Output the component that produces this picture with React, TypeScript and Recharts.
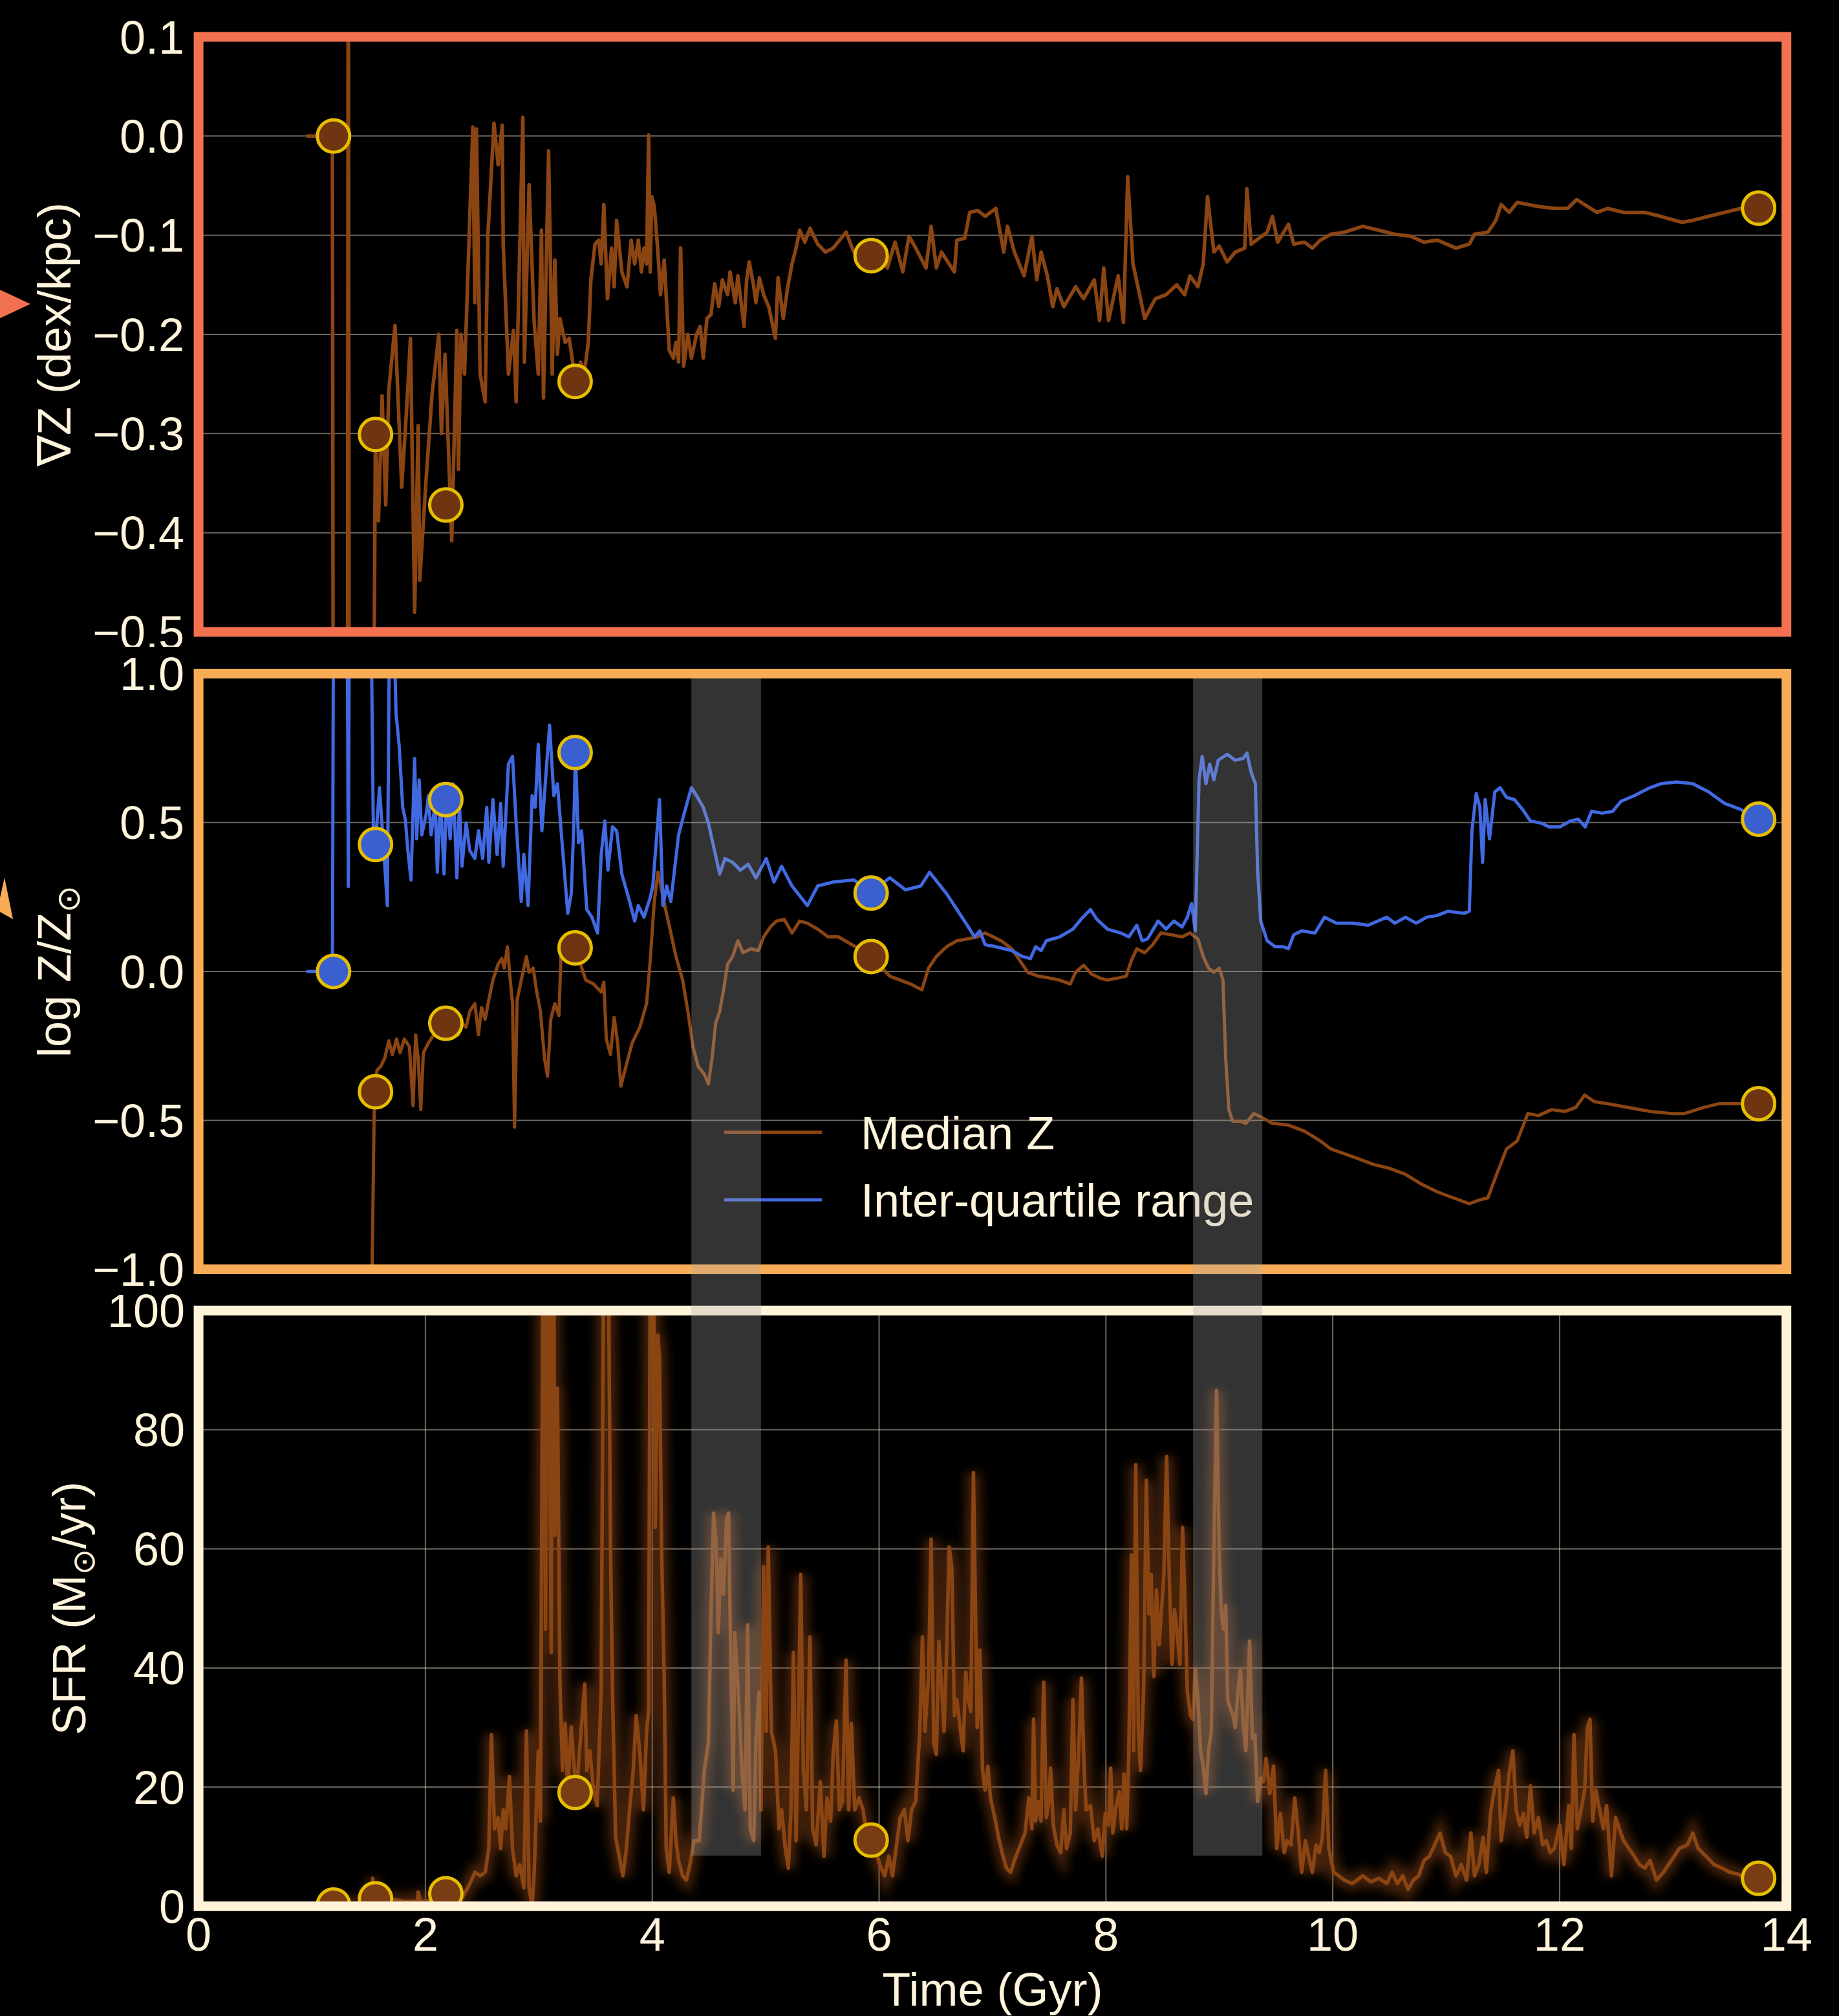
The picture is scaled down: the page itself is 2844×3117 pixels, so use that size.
import React from 'react';
import { ComposedChart, Line, Scatter, XAxis, YAxis, CartesianGrid, ReferenceArea } from 'recharts';

// ---------------- data ----------------
const TIME_TICKS = [0, 2, 4, 6, 8, 10, 12, 14];
const GRAD_TICKS = [-0.5, -0.4, -0.3, -0.2, -0.1, 0, 0.1];
const METAL_TICKS = [-1, -0.5, 0, 0.5, 1];
const SFR_TICKS = [0, 20, 40, 60, 80, 100];

// shaded epochs (Gyr) and lower SFR edge of the shading
const QUIET_BANDS: [number, number][] = [[4.345, 4.959], [8.769, 9.379]];
const BAND_SFR_FLOOR = 8.5;

// highlighted snapshots
const snapshotTimes = [1.19, 1.56, 2.18, 3.32, 5.93, 13.755];
const gradientAtSnapshots = [0, -0.301, -0.372, -0.2475, -0.1206, -0.0727];
const iqrAtSnapshots = [0, 0.426, 0.577, 0.735, 0.263, 0.511];
const medianSnapshotTimes = [1.56, 2.18, 3.32, 5.93, 13.755];
const medianAtSnapshots = [-0.404, -0.174, 0.079, 0.05, -0.444];
const sfrAtSnapshots = [0.2, 1.25, 2.1, 19.1, 11.1, 4.7];

// metallicity gradient (dex/kpc) vs time (Gyr)
const gradientSeries: [number, number][] = [
  [0.95, 0], [1.18, 0], [1.19, -0.9], [1.31, -0.9], [1.32, 0.3], [1.33, -0.9], [1.53, -0.9],
  [1.559, -0.301], [1.586, -0.388], [1.618, -0.262], [1.65, -0.372], [1.677, -0.256], [1.732, -0.191], [1.791, -0.354],
  [1.836, -0.272], [1.868, -0.204], [1.905, -0.48], [1.936, -0.292], [1.95, -0.448], [2.005, -0.348], [2.059, -0.26],
  [2.118, -0.2], [2.141, -0.3], [2.173, -0.22], [2.232, -0.408], [2.277, -0.196], [2.291, -0.336], [2.314, -0.2],
  [2.345, -0.24], [2.418, 0.009], [2.436, -0.168], [2.45, 0.007], [2.482, -0.24], [2.527, -0.268], [2.55, -0.101],
  [2.605, 0.013], [2.641, -0.029], [2.677, 0.011], [2.686, -0.109], [2.732, -0.24], [2.777, -0.196], [2.8, -0.268],
  [2.859, 0.019], [2.873, -0.228], [2.914, -0.049], [2.959, -0.188], [2.995, -0.24], [3.023, -0.095], [3.041, -0.264],
  [3.086, -0.015], [3.118, -0.24], [3.141, -0.125], [3.164, -0.22], [3.186, -0.184], [3.232, -0.208], [3.268, -0.204],
  [3.323, -0.248], [3.368, -0.228], [3.4, -0.24], [3.436, -0.208], [3.459, -0.145], [3.495, -0.109], [3.527, -0.105],
  [3.55, -0.129], [3.573, -0.069], [3.605, -0.164], [3.641, -0.113], [3.664, -0.152], [3.686, -0.085], [3.732, -0.137],
  [3.777, -0.152], [3.814, -0.105], [3.845, -0.129], [3.877, -0.105], [3.905, -0.137], [3.927, -0.113], [3.95, -0.129],
  [3.968, 0.001], [3.982, -0.137], [3.995, -0.061], [4.018, -0.071], [4.05, -0.117], [4.073, -0.16], [4.105, -0.125],
  [4.15, -0.216], [4.186, -0.224], [4.209, -0.208], [4.232, -0.228], [4.25, -0.113], [4.277, -0.232], [4.314, -0.2],
  [4.345, -0.224], [4.391, -0.2], [4.423, -0.192], [4.45, -0.224], [4.482, -0.184], [4.518, -0.18], [4.55, -0.149],
  [4.586, -0.172], [4.618, -0.145], [4.664, -0.16], [4.686, -0.137], [4.732, -0.168], [4.755, -0.141], [4.809, -0.192],
  [4.832, -0.145], [4.855, -0.127], [4.891, -0.149], [4.914, -0.168], [4.945, -0.143], [4.982, -0.16], [5.027, -0.172],
  [5.086, -0.204], [5.109, -0.143], [5.155, -0.184], [5.195, -0.152], [5.232, -0.129], [5.268, -0.113], [5.3, -0.095],
  [5.345, -0.107], [5.391, -0.093], [5.459, -0.109], [5.527, -0.117], [5.595, -0.113], [5.709, -0.097], [5.777, -0.117],
  [5.927, -0.121], [6.005, -0.113], [6.073, -0.133], [6.141, -0.107], [6.209, -0.137], [6.264, -0.101], [6.323, -0.113],
  [6.414, -0.133], [6.459, -0.091], [6.505, -0.133], [6.55, -0.117], [6.618, -0.129], [6.664, -0.137], [6.686, -0.105],
  [6.755, -0.103], [6.8, -0.077], [6.868, -0.075], [6.936, -0.081], [7.029, -0.073], [7.099, -0.117], [7.132, -0.091],
  [7.193, -0.117], [7.278, -0.141], [7.348, -0.101], [7.39, -0.145], [7.428, -0.117], [7.484, -0.141], [7.531, -0.172],
  [7.568, -0.154], [7.629, -0.172], [7.733, -0.152], [7.803, -0.164], [7.897, -0.145], [7.944, -0.186], [7.981, -0.133],
  [8.023, -0.186], [8.108, -0.141], [8.155, -0.188], [8.192, -0.041], [8.239, -0.129], [8.342, -0.184], [8.436, -0.164],
  [8.53, -0.16], [8.624, -0.15], [8.694, -0.16], [8.741, -0.141], [8.811, -0.152], [8.858, -0.129], [8.896, -0.061],
  [8.952, -0.117], [8.999, -0.111], [9.069, -0.127], [9.14, -0.117], [9.224, -0.113], [9.243, -0.053], [9.28, -0.109],
  [9.374, -0.101], [9.421, -0.097], [9.468, -0.081], [9.515, -0.107], [9.609, -0.089], [9.656, -0.109], [9.75, -0.107],
  [9.82, -0.113], [9.89, -0.105], [9.984, -0.099], [10.101, -0.097], [10.265, -0.091], [10.406, -0.095], [10.547, -0.099],
  [10.687, -0.101], [10.805, -0.107], [10.922, -0.105], [11.086, -0.113], [11.204, -0.109], [11.25, -0.099], [11.368, -0.097],
  [11.438, -0.085], [11.485, -0.069], [11.555, -0.077], [11.626, -0.067], [11.72, -0.069], [11.813, -0.071], [11.954, -0.073],
  [12.071, -0.073], [12.151, -0.064], [12.329, -0.077], [12.423, -0.073], [12.564, -0.077], [12.751, -0.077], [12.892, -0.081],
  [13.08, -0.087], [13.174, -0.085], [13.314, -0.081], [13.455, -0.077], [13.596, -0.073], [13.755, -0.073],
];

// inter-quartile range of log Z/Zsun
const iqrSeries: [number, number][] = [
  [0.95, 0], [1.18, 0], [1.19, 1.3], [1.31, 1.3], [1.32, 0.285], [1.33, 1.3], [1.518, 1.3], [1.541, 0.47],
  [1.559, 0.426], [1.595, 0.617], [1.65, 0.307], [1.664, 0.221], [1.686, 1.3], [1.714, 1.3], [1.741, 0.867],
  [1.768, 0.76], [1.8, 0.55], [1.823, 0.51], [1.845, 0.406], [1.873, 0.307], [1.905, 0.715], [1.923, 0.445],
  [1.945, 0.643], [1.968, 0.458], [2.005, 0.524], [2.027, 0.59], [2.05, 0.458], [2.086, 0.564], [2.105, 0.333],
  [2.132, 0.59], [2.164, 0.327], [2.186, 0.59], [2.218, 0.445], [2.245, 0.63], [2.277, 0.314], [2.3, 0.564],
  [2.323, 0.353], [2.359, 0.498], [2.391, 0.406], [2.436, 0.379], [2.468, 0.472], [2.505, 0.379], [2.541, 0.551],
  [2.559, 0.366], [2.595, 0.577], [2.632, 0.393], [2.664, 0.564], [2.686, 0.353], [2.732, 0.696], [2.768, 0.722],
  [2.8, 0.498], [2.845, 0.235], [2.868, 0.393], [2.905, 0.221], [2.941, 0.59], [2.968, 0.551], [2.995, 0.762],
  [3.027, 0.472], [3.059, 0.643], [3.095, 0.827], [3.132, 0.59], [3.164, 0.63], [3.205, 0.432], [3.255, 0.195],
  [3.286, 0.261], [3.309, 0.498], [3.323, 0.735], [3.35, 0.432], [3.377, 0.472], [3.423, 0.208], [3.468, 0.182],
  [3.518, 0.129], [3.55, 0.393], [3.582, 0.505], [3.609, 0.34], [3.65, 0.485], [3.686, 0.472], [3.732, 0.327],
  [3.791, 0.248], [3.845, 0.169], [3.877, 0.221], [3.927, 0.182], [3.982, 0.248], [4.005, 0.287], [4.064, 0.577],
  [4.095, 0.221], [4.127, 0.287], [4.164, 0.235], [4.232, 0.458], [4.277, 0.524], [4.345, 0.617], [4.391, 0.59],
  [4.45, 0.551], [4.495, 0.498], [4.541, 0.419], [4.595, 0.327], [4.641, 0.379], [4.709, 0.366], [4.777, 0.34],
  [4.845, 0.36], [4.914, 0.314], [5.005, 0.379], [5.073, 0.3], [5.141, 0.353], [5.232, 0.287], [5.368, 0.221],
  [5.459, 0.287], [5.595, 0.3], [5.777, 0.307], [5.927, 0.267], [6.095, 0.314], [6.232, 0.274], [6.368, 0.287],
  [6.445, 0.333], [6.595, 0.261], [6.686, 0.208], [6.777, 0.155], [6.842, 0.116], [6.888, 0.136], [6.935, 0.09],
  [7.029, 0.083], [7.17, 0.07], [7.264, 0.05], [7.334, 0.043], [7.381, 0.083], [7.428, 0.07], [7.475, 0.103],
  [7.592, 0.116], [7.709, 0.142], [7.78, 0.175], [7.864, 0.208], [7.92, 0.175], [8.014, 0.142], [8.131, 0.129],
  [8.202, 0.116], [8.272, 0.155], [8.319, 0.103], [8.366, 0.109], [8.46, 0.169], [8.53, 0.142], [8.6, 0.169],
  [8.671, 0.149], [8.718, 0.182], [8.755, 0.228], [8.788, 0.136], [8.821, 0.643], [8.849, 0.722], [8.882, 0.63],
  [8.915, 0.696], [8.952, 0.643], [8.99, 0.709], [9.069, 0.729], [9.14, 0.709], [9.21, 0.715], [9.243, 0.733],
  [9.28, 0.669], [9.318, 0.63], [9.337, 0.34], [9.365, 0.169], [9.421, 0.103], [9.492, 0.083], [9.562, 0.083],
  [9.609, 0.076], [9.656, 0.123], [9.726, 0.136], [9.843, 0.129], [9.928, 0.182], [10.031, 0.162], [10.172, 0.162],
  [10.312, 0.155], [10.477, 0.182], [10.547, 0.162], [10.641, 0.182], [10.735, 0.162], [10.828, 0.182], [10.922, 0.188],
  [11.016, 0.202], [11.157, 0.195], [11.204, 0.202], [11.227, 0.472], [11.265, 0.597], [11.297, 0.551], [11.321, 0.366],
  [11.344, 0.577], [11.382, 0.445], [11.429, 0.603], [11.476, 0.617], [11.532, 0.584], [11.602, 0.577], [11.673, 0.544],
  [11.743, 0.505], [11.837, 0.498], [11.907, 0.485], [12.001, 0.485], [12.095, 0.505], [12.165, 0.511], [12.226, 0.485],
  [12.282, 0.538], [12.376, 0.531], [12.47, 0.538], [12.54, 0.571], [12.658, 0.59], [12.798, 0.617], [12.892, 0.63],
  [13.033, 0.636], [13.174, 0.63], [13.314, 0.603], [13.455, 0.564], [13.596, 0.544], [13.755, 0.511],
];

// median log Z/Zsun
const medianSeries: [number, number][] = [
  [1.52, -1.3], [1.55, -0.411], [1.573, -0.332], [1.605, -0.319], [1.641, -0.292], [1.677, -0.233], [1.709, -0.279],
  [1.745, -0.227], [1.777, -0.273], [1.814, -0.227], [1.859, -0.253], [1.891, -0.451], [1.914, -0.213], [1.936, -0.292],
  [1.959, -0.464], [1.982, -0.273], [2.027, -0.24], [2.095, -0.2], [2.177, -0.174], [2.232, -0.2], [2.291, -0.213],
  [2.323, -0.174], [2.359, -0.187], [2.391, -0.134], [2.436, -0.108], [2.468, -0.213], [2.495, -0.121], [2.527, -0.161],
  [2.559, -0.095], [2.595, -0.029], [2.641, 0.024], [2.673, 0.043], [2.695, 0.011], [2.723, 0.083], [2.745, -0.016],
  [2.768, -0.108], [2.786, -0.523], [2.809, -0.095], [2.845, -0.029], [2.891, 0.05], [2.914, -0.003], [2.95, 0.011],
  [2.982, -0.069], [3.014, -0.134], [3.05, -0.292], [3.077, -0.352], [3.105, -0.161], [3.141, -0.108], [3.177, -0.148],
  [3.2, 0.103], [3.232, 0.076], [3.323, 0.083], [3.368, 0.024], [3.414, -0.029], [3.482, -0.042], [3.55, -0.069],
  [3.573, -0.036], [3.595, -0.227], [3.632, -0.279], [3.664, -0.154], [3.695, -0.24], [3.723, -0.385], [3.777, -0.306],
  [3.823, -0.24], [3.891, -0.187], [3.95, -0.108], [3.982, 0.037], [4.018, 0.235], [4.05, 0.333], [4.082, 0.274],
  [4.118, 0.208], [4.164, 0.129], [4.209, 0.05], [4.268, -0.029], [4.314, -0.134], [4.359, -0.253], [4.405, -0.319],
  [4.459, -0.345], [4.495, -0.378], [4.527, -0.292], [4.559, -0.174], [4.595, -0.134], [4.632, -0.055], [4.664, 0.024],
  [4.709, 0.05], [4.755, 0.103], [4.8, 0.063], [4.868, 0.076], [4.936, 0.07], [4.982, 0.116], [5.041, 0.149],
  [5.095, 0.169], [5.164, 0.175], [5.232, 0.129], [5.3, 0.169], [5.368, 0.162], [5.459, 0.142], [5.55, 0.116],
  [5.641, 0.116], [5.732, 0.096], [5.823, 0.076], [5.927, 0.05], [6.027, 0.011], [6.095, -0.016], [6.186, -0.029],
  [6.277, -0.042], [6.377, -0.062], [6.436, 0.011], [6.505, 0.05], [6.595, 0.083], [6.686, 0.103], [6.777, 0.109],
  [6.868, 0.116], [6.935, 0.129], [7.076, 0.103], [7.17, 0.076], [7.24, 0.037], [7.311, -0.003], [7.404, -0.016],
  [7.498, -0.022], [7.592, -0.029], [7.686, -0.042], [7.733, -0.003], [7.803, 0.021], [7.873, -0.009], [7.944, -0.022],
  [8.014, -0.029], [8.108, -0.022], [8.178, -0.016], [8.225, 0.037], [8.272, 0.076], [8.342, 0.063], [8.413, 0.09],
  [8.483, 0.129], [8.577, 0.123], [8.671, 0.116], [8.741, 0.129], [8.811, 0.109], [8.858, 0.05], [8.905, 0.011],
  [8.952, -0.003], [8.999, 0.011], [9.032, -0.029], [9.056, -0.292], [9.084, -0.464], [9.117, -0.503], [9.187, -0.503],
  [9.234, -0.51], [9.304, -0.477], [9.374, -0.49], [9.468, -0.51], [9.609, -0.516], [9.75, -0.536], [9.89, -0.569],
  [9.984, -0.596], [10.078, -0.609], [10.219, -0.628], [10.359, -0.648], [10.5, -0.661], [10.641, -0.681], [10.781, -0.714],
  [10.922, -0.74], [11.063, -0.76], [11.204, -0.78], [11.297, -0.767], [11.368, -0.76], [11.438, -0.688], [11.532, -0.596],
  [11.626, -0.569], [11.72, -0.477], [11.813, -0.484], [11.93, -0.464], [12.047, -0.47], [12.141, -0.457], [12.221, -0.415],
  [12.305, -0.437], [12.423, -0.444], [12.611, -0.457], [12.798, -0.47], [12.986, -0.477], [13.103, -0.477], [13.267, -0.457],
  [13.408, -0.444], [13.549, -0.444], [13.755, -0.444],
];

// star formation rate (Msun/yr)
const sfrSeries: [number, number][] = [
  [1.1, 0], [1.19, 0.2], [1.45, 0.4], [1.53, 0.6], [1.536, 4.7], [1.545, 0.8], [1.573, 1.1], [1.732, 1.1], [1.823, 0.8],
  [1.93, 0.9], [1.936, 2.4], [1.959, 0.8], [2.095, 1.1], [2.177, 2.1], [2.323, 1.4], [2.391, 3.75], [2.436, 5.7],
  [2.482, 5.1], [2.527, 5.7], [2.559, 9.7], [2.582, 28.8], [2.609, 13], [2.641, 14.9], [2.664, 9.7], [2.686, 16.2],
  [2.709, 13], [2.741, 21.8], [2.768, 9.7], [2.8, 5.1], [2.832, 7], [2.868, 3.1], [2.891, 29.4], [2.914, 3.1],
  [2.941, 0], [2.959, 5.7], [2.995, 26.1], [3.014, 14.3], [3.041, 130], [3.059, 46.5], [3.077, 130], [3.109, 42.6],
  [3.127, 130], [3.141, 62.3], [3.164, 87], [3.186, 37.3], [3.209, 22.8], [3.232, 30.7], [3.255, 19.5], [3.286, 30.1],
  [3.314, 22.8], [3.332, 19.2], [3.359, 26.1], [3.405, 37.3], [3.423, 22.8], [3.45, 26.1], [3.482, 19.5], [3.514, 16.9],
  [3.55, 36], [3.577, 130], [3.605, 130], [3.632, 59.7], [3.65, 35.3], [3.677, 11.6], [3.709, 8.4], [3.741, 5.1],
  [3.768, 9], [3.8, 16.2], [3.832, 22.8], [3.859, 32], [3.891, 25.5], [3.923, 16.2], [3.95, 29.4], [3.968, 32.7],
  [3.986, 130], [4.005, 130], [4.027, 63.6], [4.05, 95.9], [4.064, 91.9], [4.082, 60.3], [4.105, 38.6], [4.123, 9.7],
  [4.15, 5.7], [4.186, 18.2], [4.209, 11], [4.232, 7.7], [4.268, 5.1], [4.3, 4.4], [4.332, 7], [4.368, 11], [4.414, 11],
  [4.459, 22.8], [4.495, 27.4], [4.518, 49], [4.541, 66], [4.564, 61], [4.582, 45.9], [4.605, 58.4], [4.627, 52.4],
  [4.655, 65], [4.673, 66], [4.691, 42.6], [4.714, 19.5], [4.727, 45.9], [4.759, 36], [4.791, 22.8], [4.818, 16.2],
  [4.841, 47.2], [4.864, 13], [4.895, 11], [4.914, 28.1], [4.941, 36], [4.959, 16.2], [4.982, 57], [5.005, 29.4],
  [5.023, 60.3], [5.05, 29.4], [5.086, 26.1], [5.118, 13], [5.141, 16.2], [5.173, 9.7], [5.2, 6.4], [5.223, 16.2],
  [5.245, 42.6], [5.268, 11], [5.286, 29.4], [5.309, 55.7], [5.332, 22.8], [5.359, 16.2], [5.391, 45.2], [5.414, 13],
  [5.445, 10.3], [5.482, 20.9], [5.514, 8.4], [5.541, 18.2], [5.573, 14.3], [5.595, 25.5], [5.623, 31.1], [5.65, 16.2],
  [5.677, 17.6], [5.709, 41.3], [5.732, 16.2], [5.755, 30.7], [5.786, 16.2], [5.823, 18.2], [5.859, 16.2], [5.891, 11.6],
  [5.927, 11], [5.968, 9.7], [6.005, 7], [6.05, 5.1], [6.086, 8.4], [6.118, 5.1], [6.15, 9.7], [6.186, 14.9],
  [6.223, 16.2], [6.255, 11], [6.286, 16.2], [6.323, 17.6], [6.359, 29.4], [6.382, 45.2], [6.405, 29.4], [6.436, 38.6],
  [6.459, 61.6], [6.482, 27.4], [6.505, 25.5], [6.527, 44.5], [6.55, 37.3], [6.573, 29.4], [6.595, 42.6], [6.618, 60.3],
  [6.641, 57], [6.664, 32], [6.686, 34.7], [6.718, 29.4], [6.741, 26.1], [6.764, 39.3], [6.786, 34.7], [6.809, 32.7],
  [6.832, 72.8], [6.865, 30], [6.888, 43], [6.912, 22.8], [6.935, 19.5], [6.959, 23.5], [6.982, 18.2], [7.02, 14.9],
  [7.053, 11.6], [7.085, 9], [7.123, 6.4], [7.16, 5.7], [7.193, 7.7], [7.24, 10], [7.287, 12.3], [7.32, 18.2],
  [7.348, 13], [7.362, 31.4], [7.381, 14.3], [7.404, 17.6], [7.428, 14.3], [7.451, 37.6], [7.475, 14.9], [7.498, 17.6],
  [7.512, 23.2], [7.536, 13.6], [7.568, 10.3], [7.601, 9], [7.629, 16.2], [7.653, 9.7], [7.686, 12.3], [7.709, 34.7],
  [7.733, 16.2], [7.756, 24.1], [7.784, 38.3], [7.808, 22.8], [7.826, 16.2], [7.864, 16.9], [7.897, 11], [7.93, 13],
  [7.967, 8.4], [7.995, 15.6], [8.023, 13.6], [8.042, 23.2], [8.061, 12.3], [8.084, 16.2], [8.117, 19.2], [8.14, 13],
  [8.159, 22.2], [8.183, 13], [8.202, 25.5], [8.225, 59], [8.244, 26.1], [8.263, 74.1], [8.286, 29.4], [8.305, 22.8],
  [8.333, 36.6], [8.356, 71.5], [8.38, 49.1], [8.399, 55.7], [8.422, 38.6], [8.446, 53.1], [8.469, 43.9], [8.493, 50.5],
  [8.511, 55.7], [8.535, 75.5], [8.558, 55.7], [8.582, 40.6], [8.605, 49.8], [8.629, 45.9], [8.652, 40.6], [8.676, 63.6],
  [8.694, 52.4], [8.718, 36], [8.746, 32], [8.765, 31.4], [8.788, 39.9], [8.811, 34.7], [8.835, 26.1], [8.858, 23.5],
  [8.882, 18.9], [8.905, 26.1], [8.929, 29.4], [8.952, 60.3], [8.976, 86.6], [8.999, 59], [9.018, 49.1], [9.037, 46.5],
  [9.056, 50.5], [9.074, 34.7], [9.093, 33.4], [9.121, 32], [9.14, 30], [9.164, 36], [9.187, 39.9], [9.21, 30.7],
  [9.234, 26.1], [9.267, 44.5], [9.291, 28.1], [9.314, 28.8], [9.337, 17.6], [9.365, 21.5], [9.389, 20.9], [9.412, 24.8],
  [9.445, 18.9], [9.478, 23.5], [9.506, 9.7], [9.539, 15.6], [9.572, 9], [9.599, 11], [9.632, 10.3], [9.665, 18.2],
  [9.693, 13], [9.726, 5.7], [9.759, 11], [9.787, 8.4], [9.82, 5.7], [9.853, 10.3], [9.881, 9], [9.909, 11.6],
  [9.937, 22.8], [9.965, 9.7], [10.008, 5.7], [10.054, 5.1], [10.101, 4.4], [10.172, 3.8], [10.265, 5.1], [10.336, 4.1],
  [10.406, 4.7], [10.477, 3.8], [10.523, 5.7], [10.57, 3.8], [10.617, 5.1], [10.664, 2.8], [10.711, 4.4], [10.758, 5.1],
  [10.805, 7.7], [10.852, 8.4], [10.899, 10.3], [10.946, 12.3], [10.993, 9], [11.039, 8.4], [11.086, 5.1], [11.133, 7],
  [11.18, 4.4], [11.218, 12.3], [11.25, 5.1], [11.288, 7], [11.326, 11.6], [11.354, 5.7], [11.391, 15.6], [11.424, 19.5],
  [11.462, 22.8], [11.485, 11], [11.522, 16.2], [11.555, 22.2], [11.588, 26.1], [11.616, 16.2], [11.649, 13.6],
  [11.682, 15.6], [11.71, 11.6], [11.743, 20.2], [11.776, 12.3], [11.813, 14.9], [11.851, 10.3], [11.884, 11],
  [11.917, 9], [11.954, 9.7], [12.001, 13.6], [12.038, 7], [12.081, 16.9], [12.104, 9.7], [12.127, 28.8], [12.156, 13],
  [12.189, 16.2], [12.221, 19.5], [12.245, 30], [12.268, 31.4], [12.292, 14.3], [12.32, 19.5], [12.353, 16.2],
  [12.386, 13], [12.414, 16.9], [12.457, 5.1], [12.494, 14.9], [12.526, 13], [12.564, 11], [12.611, 9.7], [12.658, 8.4],
  [12.704, 7], [12.751, 6.4], [12.798, 7.7], [12.854, 4.4], [12.915, 5.7], [12.986, 7.7], [13.056, 9.7], [13.127, 10.3],
  [13.174, 12.3], [13.221, 9.7], [13.291, 8.4], [13.361, 7], [13.432, 6.4], [13.502, 5.7], [13.573, 5.4], [13.643, 4.7],
  [13.755, 4.7],
];

// ---------------- styling ----------------
const FONT = '"Liberation Sans", Arial, Helvetica, sans-serif';
const CREAM = '#FFF4DC';
const BROWN = '#8B4513';
const BLUE = '#4169E1';
const GOLD = '#E6BE00';
const SPINE_GRAD = '#F3714F';
const SPINE_METAL = '#F8AC55';
const SPINE_SFR = '#FFF3DA';
const BAND_FILL = '#AAAAAA';
const FS = 72;

const W = 2844;
const PLOT_LEFT = 307.1;
const PLOT_RIGHT = 2762.7;
const YAXIS_W = 200;

const toPoints = (pairs: [number, number][]) => pairs.map(([t, v]) => ({ t, v }));
const snapPoints = (times: number[], vals: number[]) => times.map((t, i) => ({ t, v: vals[i] }));

const fmt1 = (v: number) => (Math.abs(v) < 1e-9 ? '0.0' : v.toFixed(1)).replace('-', '\u2212');
const fmt0 = (v: number) => String(Math.round(v));

const makeMarker = (fill: string) => (props: any) => {
  const { cx, cy } = props;
  if (cx == null || cy == null || isNaN(cx) || isNaN(cy)) return <g />;
  return <circle cx={cx} cy={cy} r={25} fill={fill} stroke={GOLD} strokeWidth={5} />;
};

const tickStyle = { fill: CREAM, fontSize: FS, fontFamily: FONT };

const YLabel = ({ viewBox, baseX, children }: any) => {
  const cy = viewBox.y + viewBox.height / 2;
  return (
    <text
      x={baseX}
      y={cy}
      transform={`rotate(-90, ${baseX}, ${cy})`}
      textAnchor="middle"
      fill={CREAM}
      fontSize={FS}
      fontFamily={FONT}
    >
      {children}
    </text>
  );
};

const margins = (top: number, bottom: number) => ({
  top,
  bottom,
  left: PLOT_LEFT - YAXIS_W,
  right: W - PLOT_RIGHT,
});

const gridProps = { stroke: CREAM, strokeOpacity: 0.42, strokeWidth: 2 };

const hiddenX = (
  <XAxis
    type="number"
    dataKey="t"
    domain={[0, 14]}
    ticks={TIME_TICKS}
    allowDataOverflow
    tick={false}
    tickLine={false}
    axisLine={false}
    height={0}
  />
);

export default function App() {
  const gradData = toPoints(gradientSeries);
  const iqrData = toPoints(iqrSeries);
  const medData = toPoints(medianSeries);
  const sfrData = toPoints(sfrSeries);

  return (
    <div
      style={{
        position: 'absolute',
        left: 0,
        top: 0,
        width: W,
        height: 3117,
        background: '#000',
        overflow: 'hidden',
        fontFamily: FONT,
      }}
    >
      {/* shared svg defs */}
      <svg width={0} height={0} style={{ position: 'absolute' }}>
        <defs>
          <filter id="sfrGlow" x="-20%" y="-20%" width="140%" height="140%">
            <feGaussianBlur stdDeviation="8" />
          </filter>
        </defs>
      </svg>

      {/* decorations + legend (below the chart layers so the shading overlays it) */}
      <svg width={W} height={3117} style={{ position: 'absolute', left: 0, top: 0 }}>
        <polygon points="0,448 47,470 0,492" fill={SPINE_GRAD} />
        <polygon points="0,1388 7,1357 20,1421 0,1410" fill={SPINE_METAL} />
        <line x1={1120} y1={1750.5} x2={1271} y2={1750.5} stroke={BROWN} strokeWidth={5} />
        <line x1={1120} y1={1855} x2={1271} y2={1855} stroke={BLUE} strokeWidth={5} />
        <text x={1331} y={1777} fill={CREAM} fontSize={FS} fontFamily={FONT}>Median Z</text>
        <text x={1331} y={1881} fill={CREAM} fontSize={FS} fontFamily={FONT}>Inter-quartile range</text>
      </svg>

      {/* Panel 1: metallicity gradient */}
      <div style={{ position: 'absolute', left: 0, top: 0 }}>
        <ComposedChart width={W} height={1000} margin={margins(57, 23)}>
          <CartesianGrid {...gridProps} />
          {hiddenX}
          <YAxis
            type="number"
            dataKey="v"
            domain={[-0.5, 0.1]}
            ticks={GRAD_TICKS}
            interval={0}
            allowDataOverflow
            width={YAXIS_W}
            tickLine={false}
            axisLine={false}
            tickSize={0}
            tickMargin={22}
            tick={tickStyle}
            tickFormatter={fmt1}
            label={{ content: (p: any) => <YLabel viewBox={p.viewBox} baseX={109}>{'\u2207Z (dex/kpc)'}</YLabel> }}
          />
          <Line data={gradData} dataKey="v" type="linear" stroke={BROWN} strokeWidth={5.5} dot={false} isAnimationActive={false} strokeLinejoin="round" zIndex={400} />
          <Scatter data={snapPoints(snapshotTimes, gradientAtSnapshots)} dataKey="v" shape={makeMarker('#6F3510')} isAnimationActive={false} zIndex={600} />
          <ReferenceArea x1={0} x2={14} y1={-0.5} y2={0.1} fill="none" stroke={SPINE_GRAD} strokeWidth={15} ifOverflow="visible" zIndex={700} />
        </ComposedChart>
      </div>

      {/* Panel 2: metallicity */}
      <div style={{ position: 'absolute', left: 0, top: 1000 }}>
        <ComposedChart width={W} height={1000} margin={margins(41.4, 37.5)}>
          <CartesianGrid {...gridProps} />
          {hiddenX}
          <YAxis
            type="number"
            dataKey="v"
            domain={[-1, 1]}
            ticks={METAL_TICKS}
            interval={0}
            allowDataOverflow
            width={YAXIS_W}
            tickLine={false}
            axisLine={false}
            tickSize={0}
            tickMargin={22}
            tick={tickStyle}
            tickFormatter={fmt1}
            label={{
              content: (p: any) => (
                <YLabel viewBox={p.viewBox} baseX={109}>
                  {'log Z/Z'}
                  <tspan dy={14} fontSize={50}>{'\u2299'}</tspan>
                </YLabel>
              ),
            }}
          />
          <Line data={medData} dataKey="v" type="linear" stroke={BROWN} strokeWidth={5} dot={false} isAnimationActive={false} strokeLinejoin="round" zIndex={400} />
          <Line data={iqrData} dataKey="v" type="linear" stroke={BLUE} strokeWidth={5} dot={false} isAnimationActive={false} strokeLinejoin="round" zIndex={410} />
          <Scatter data={snapPoints(medianSnapshotTimes, medianAtSnapshots)} dataKey="v" shape={makeMarker('#6F3510')} isAnimationActive={false} zIndex={600} />
          <Scatter data={snapPoints(snapshotTimes, iqrAtSnapshots)} dataKey="v" shape={makeMarker('#3A5FCF')} isAnimationActive={false} zIndex={610} />
          <ReferenceArea x1={0} x2={14} y1={-1} y2={1} fill="none" stroke={SPINE_METAL} strokeWidth={15} ifOverflow="visible" zIndex={700} />
          {QUIET_BANDS.map(([a, b]) => (
            <ReferenceArea key={`b2-${a}`} x1={a} x2={b} y1={-1} y2={0.985} fill={BAND_FILL} fillOpacity={0.3} stroke="none" ifOverflow="visible" zIndex={800} />
          ))}
        </ComposedChart>
      </div>

      {/* Panel 3: SFR */}
      <div style={{ position: 'absolute', left: 0, top: 1963 }}>
        <ComposedChart width={W} height={1154} margin={margins(63.3, 49.7)}>
          <CartesianGrid {...gridProps} />
          <XAxis
            type="number"
            dataKey="t"
            domain={[0, 14]}
            ticks={TIME_TICKS}
            interval={0}
            allowDataOverflow
            height={120}
            tickLine={false}
            axisLine={false}
            tickSize={0}
            tickMargin={18}
            tick={tickStyle}
            label={{
              content: (p: any) => (
                <text
                  x={p.viewBox.x + p.viewBox.width / 2}
                  y={p.viewBox.y + 154}
                  textAnchor="middle"
                  fill={CREAM}
                  fontSize={FS}
                  fontFamily={FONT}
                >
                  Time (Gyr)
                </text>
              ),
            }}
          />
          <YAxis
            type="number"
            dataKey="v"
            domain={[0, 100]}
            ticks={SFR_TICKS}
            interval={0}
            allowDataOverflow
            width={YAXIS_W}
            tickLine={false}
            axisLine={false}
            tickSize={0}
            tickMargin={21}
            tick={tickStyle}
            tickFormatter={fmt0}
            label={{
              content: (p: any) => (
                <YLabel viewBox={p.viewBox} baseX={132}>
                  {'SFR (M'}
                  <tspan dy={14} fontSize={48}>{'\u2299'}</tspan>
                  <tspan dy={-14} fontSize={FS}>{'/yr)'}</tspan>
                </YLabel>
              ),
            }}
          />
          <Line data={sfrData} dataKey="v" type="linear" stroke="#9A4A16" strokeOpacity={0.45} strokeWidth={22} dot={false} isAnimationActive={false} filter="url(#sfrGlow)" zIndex={390} />
          <Line data={sfrData} dataKey="v" type="linear" stroke={BROWN} strokeWidth={5.5} dot={false} isAnimationActive={false} strokeLinejoin="round" zIndex={400} />
          <Scatter data={snapPoints(snapshotTimes, sfrAtSnapshots)} dataKey="v" shape={makeMarker('#7A3C12')} isAnimationActive={false} zIndex={600} />
          <ReferenceArea x1={0} x2={14} y1={0} y2={100} fill="none" stroke={SPINE_SFR} strokeWidth={15} ifOverflow="visible" zIndex={700} />
          {QUIET_BANDS.map(([a, b]) => (
            <ReferenceArea key={`b3-${a}`} x1={a} x2={b} y1={BAND_SFR_FLOOR} y2={106.9} fill={BAND_FILL} fillOpacity={0.3} stroke="none" ifOverflow="visible" zIndex={800} />
          ))}
        </ComposedChart>
      </div>
    </div>
  );
}
